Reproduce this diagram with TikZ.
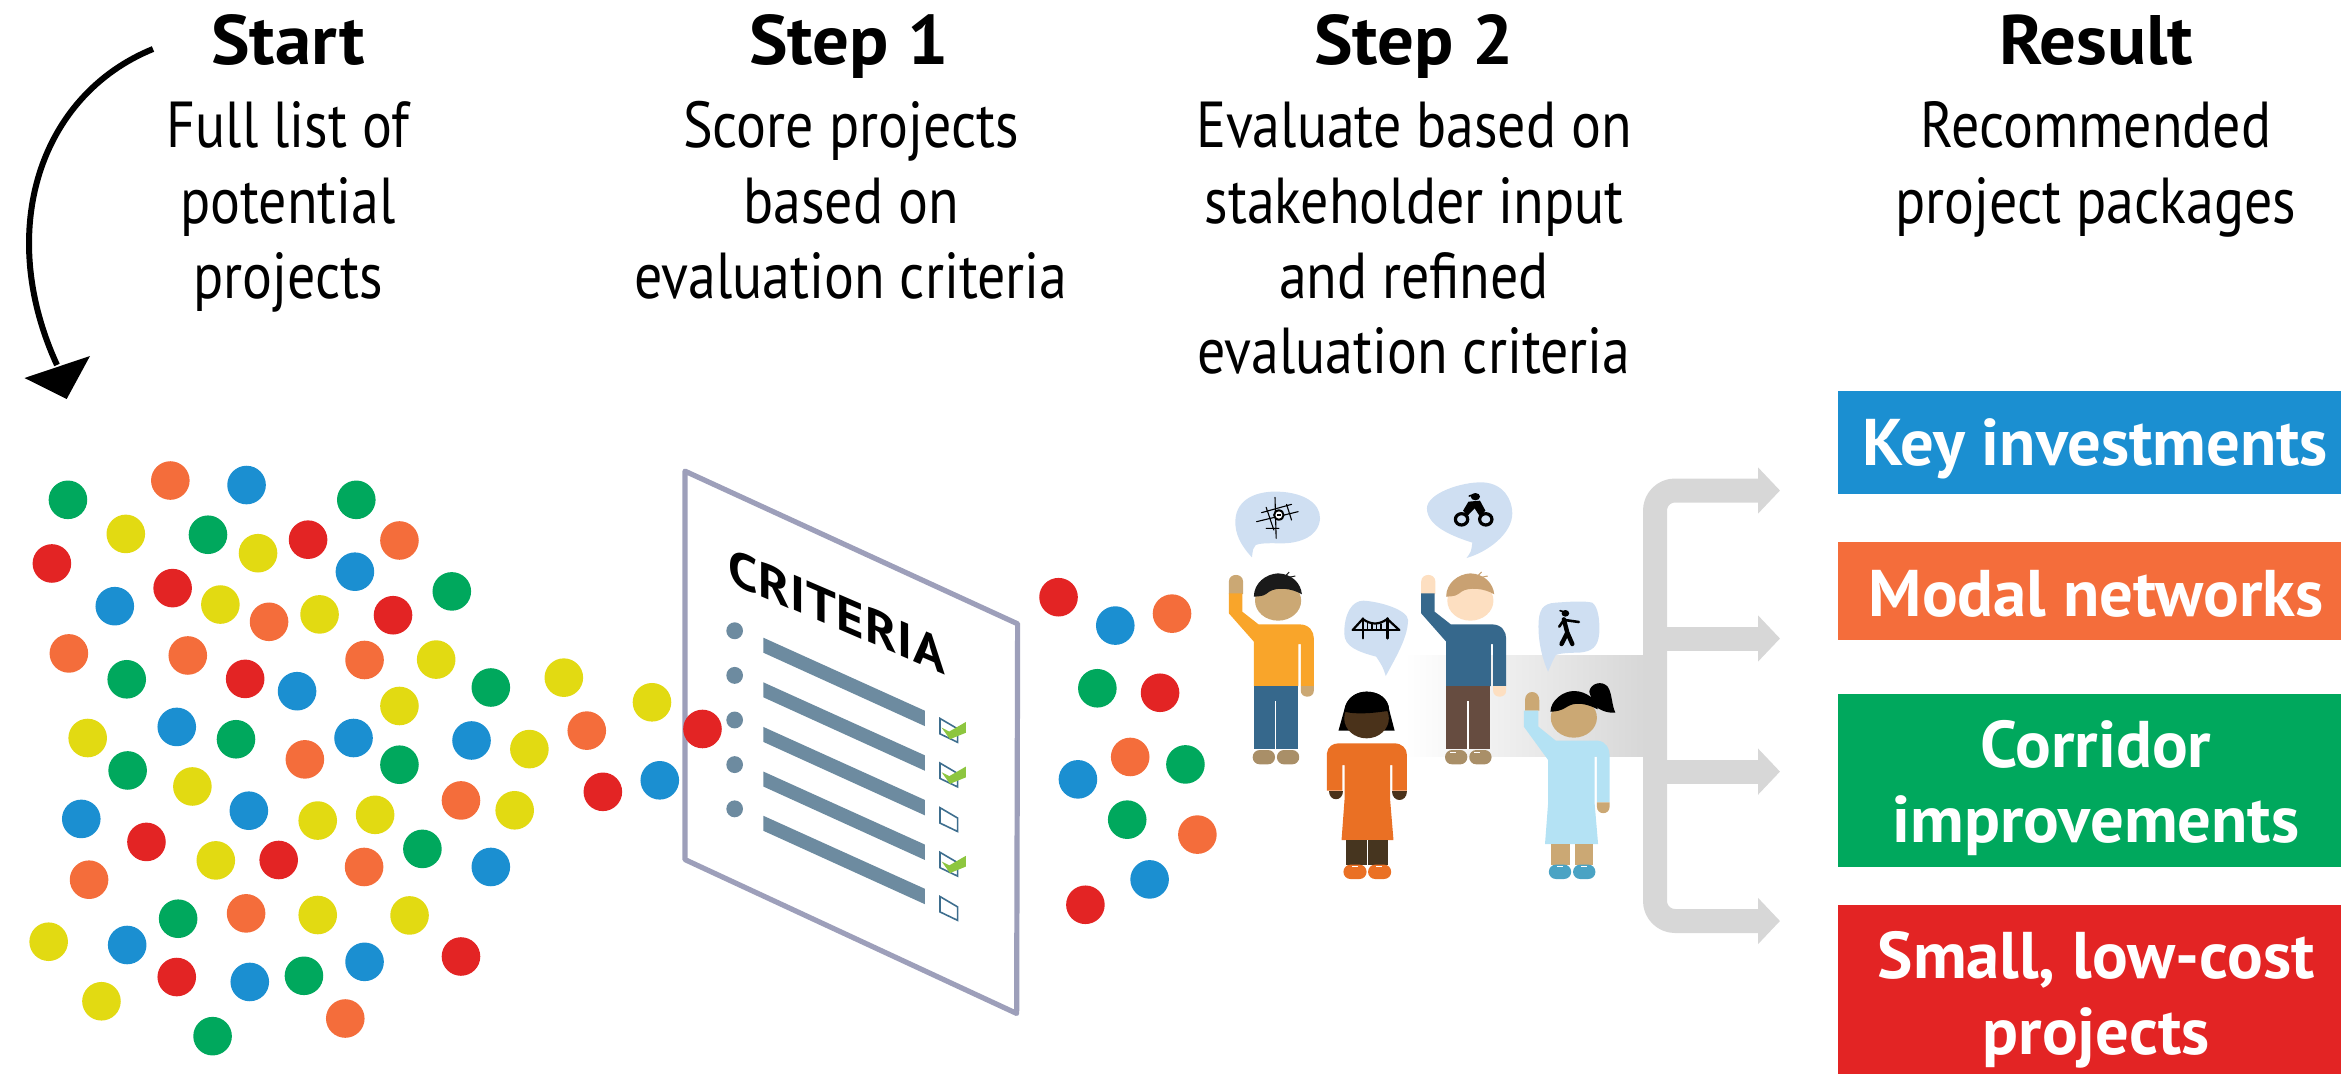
\documentclass[tikz,border=0pt]{standalone}
\usepackage{fontspec}
\usetikzlibrary{arrows.meta}
\newfontfamily\din[FakeStretch=0.86]{PT Sans}
\newfontfamily\dinh[FakeStretch=1.04]{PT Sans}
\newfontfamily\dinb[FakeStretch=1.01]{PT Sans}
\newfontfamily\dinc[FakeStretch=1.05,LetterSpace=1.5]{PT Sans}
\definecolor{dg}{HTML}{00A85D}
\definecolor{dy}{HTML}{E2DA12}
\definecolor{dr}{HTML}{E32424}
\definecolor{db}{HTML}{1B8FD1}
\definecolor{dn}{HTML}{F46D3B}
\definecolor{sheet}{HTML}{9D9FBA}
\definecolor{bar}{HTML}{6D8BA0}
\definecolor{tick}{HTML}{8DC63F}
\definecolor{boxline}{HTML}{3E6E8E}
\definecolor{grayarrow}{HTML}{D7D7D7}
\definecolor{bubble}{HTML}{CFDFF2}
\definecolor{tan}{HTML}{CBA874}
\definecolor{shoe}{HTML}{A98F68}
\definecolor{jean}{HTML}{36688C}
\definecolor{shirtor}{HTML}{F9A52A}
\definecolor{hairb}{HTML}{1A1A1A}
\definecolor{brownleg}{HTML}{664C40}
\definecolor{pale}{HTML}{FDDFC1}
\definecolor{sandy}{HTML}{C9A172}
\definecolor{darkskin}{HTML}{4A321A}
\definecolor{dress}{HTML}{EA7024}
\definecolor{darkleg}{HTML}{46351F}
\definecolor{sky}{HTML}{B4E2F4}
\definecolor{shoeblue}{HTML}{4AA3C4}
\tikzset{
  title/.style={anchor=base,inner sep=0pt,font=\dinh\bfseries\fontsize{70}{70}\selectfont},
  body/.style={anchor=base,inner sep=0pt,font=\din\fontsize{65}{65}\selectfont},
  boxlabel/.style={anchor=base,inner sep=0pt,text=white,font=\dinb\bfseries\fontsize{66}{66}\selectfont},
  grayline/.style={draw=grayarrow,line width=24pt,line join=round},
  graytip/.style={-{Triangle[length=22pt,width=45pt,color=grayarrow]}},
  icon/.style={draw=black,line cap=round,line join=round},
}
\newcommand{\manfig}[4]{%
  \fill[#3] (75,372) -- (75,335) .. controls (75,308) and (112,308) .. (112,335) -- (112,372) -- cycle;
  \fill[#1] (75,370) -- (110,370) -- (110,425) -- (152,463) -- (258,463) .. controls (285,463) and (296,485) .. (296,505) -- (296,648) -- (262,648) -- (262,522) -- (256,522) -- (256,648) -- (140,648) -- (140,515) -- (75,430) -- cycle;
  \fill[#3] (262,648) -- (296,648) -- (296,662) .. controls (296,686) and (262,686) .. (262,662) -- cycle;
  \fill[#2] (140,648) rectangle (255,838);
  \draw[white,line width=1.2pt] (197,693) -- (197,838);
  \fill[shoe,rounded corners=7pt] (137,840) rectangle (195,883);
  \fill[shoe,rounded corners=7pt] (200,840) rectangle (258,883);
  \fill[#3] (203,392) ellipse [x radius=60,y radius=60];
  \fill[#4] (140,380) .. controls (140,340) and (170,312) .. (203,310) .. controls (240,312) and (262,340) .. (265,373) .. controls (240,355) and (200,350) .. (180,365) .. controls (165,378) .. (140,380) -- cycle;
  \draw[#4,line width=1pt] (222,318) -- (232,306) (230,322) -- (248,318);
}
\begin{document}
\begin{tikzpicture}[x=1pt,y=-1pt]
\useasboundingbox (0,0) rectangle (2341,1074);

% headers
\node[title] (t0) at (288,64) {Start};
\node[body] (t0a) at (288,147) {Full list of};
\node[body] (t0b) at (288,223) {potential};
\node[body] (t0c) at (288,298) {projects};
\node[title] (t1) at (849,64) {Step 1};
\node[body] (t1a) at (851,147) {Score projects};
\node[body] (t1b) at (851,223) {based on};
\node[body] (t1c) at (851,298) {evaluation criteria};
\node[title] (t2) at (1414,64) {Step 2};
\node[body] (t2a) at (1414,147) {Evaluate based on};
\node[body] (t2b) at (1414,223) {stakeholder input};
\node[body] (t2c) at (1414,298) {and refined};
\node[body] (t2d) at (1414,373) {evaluation criteria};
\node[title] (t3) at (2096,64) {Result};
\node[body] (t3a) at (2096,147) {Recommended};
\node[body] (t3b) at (2096,223) {project packages};

% start arrow
\coordinate (sa) at (153,49);
\coordinate (sb) at (57,365);
\draw[black,line width=6pt] (sa) .. controls (40,95) and (-5,230) .. (sb);
\fill[black] (24.5,378) -- (90,356) -- (66.7,399) -- cycle;

% criteria sheet
\begin{scope}[shift={(660,450)},x=0.3333pt,y=-0.3846pt]
  \draw[sheet,fill=white,line width=5.2pt,line join=round] (75,55) -- (1073,452) -- (1070,1465) -- (75,1065) -- cycle;
  \foreach \d in {0,116,232,348,463} {
    \fill[bar] (224,470+\d) ellipse [x radius=25,y radius=22];
    \fill[bar] (310,488+\d) -- (795,678+\d) -- (795,718+\d) -- (310,527+\d) -- cycle;
    \draw[boxline,line width=1.6pt] (840,698+\d) -- (893,725+\d) -- (893,760+\d) -- (840,738+\d) -- cycle;
  }
  \foreach \d in {0,116,348} {
    \fill[tick] (845,722+\d) -- (868,732+\d) -- (918,707+\d) -- (918,735+\d) -- (870,752+\d) -- cycle;
  }
\end{scope}
\begin{scope}[shift={(728,582)},yslant=-0.43]
  \node[anchor=base west,inner sep=0pt,transform shape,font=\dinc\bfseries\fontsize{50}{50}\selectfont] (crit) at (0,0) {CRITERIA};
\end{scope}

% project dots
\begin{scope}[shift={(0,430)},x=0.45914pt,y=-0.41068pt]
\foreach \cc/\xx/\yy in {dg/148/170,dn/371/123,db/537/134,dg/776/170,dy/274/253,dg/453/255,dy/562/300,dr/671/267,dn/870/269,dr/113/325,db/773/345,dr/376/385,db/250/429,dy/480/425,dn/586/467,dy/696/449,dr/856/451,dg/984/393,dn/150/544,dn/409/549,dg/276/607,dr/534/606,db/647/636,dn/794/560,dy/950/559,dy/870/672,dg/1069/627,dy/1228/603,dy/1420/663,dn/1278/732,dr/1530/728,db/385/723,dg/514/753,dy/191/750,db/770/750,dn/664/802,dg/870/815,db/1027/756,dy/1153/777,dg/278/829,dy/419/868,db/177/947,dr/319/1003,db/542/927,dy/692/951,dy/817/937,dn/1004/902,dy/1121/926,dr/1313/881,db/1437/853,dg/920/1020,db/1069/1064,dn/793/1064,dr/607/1047,dy/470/1048,dn/194/1095,dg/388/1190,dn/536/1177,dy/692/1181,dy/892/1182,dy/106/1246,db/277/1254,dr/385/1332,db/544/1344,dg/662/1329,db/794/1295,dr/1004/1282,dy/221/1391,dg/463/1476,dn/752/1433}
  \fill[\cc] (\xx,\yy) circle [radius=19.3pt];
\end{scope}
\begin{scope}[x=1.493pt,y=-1.493pt]
\foreach \cc/\xx/\yy in {dr/709/400,db/747/419,dn/785/411,dg/735/461,dr/777/464,dn/757/507,dg/794/512,db/722/522,dg/755/549,dn/802/559,db/770/589,dr/727/606}
  \fill[\cc] (\xx,\yy) circle [radius=19.3pt];
\end{scope}

% band and gray arrows
\fill[left color=white,right color=grayarrow] (1404,655) rectangle (1646,756);
\coordinate (h1) at (1780,490.5);
\coordinate (h2) at (1780,638.5);
\coordinate (h3) at (1780,771.6);
\coordinate (h4) at (1780,921);
\coordinate (v2) at (1655,638.5);
\coordinate (v3) at (1655,771.6);
\draw[grayline,rounded corners=20pt,{Triangle[length=22pt,width=45pt,color=grayarrow]}-{Triangle[length=22pt,width=45pt,color=grayarrow]}] (h1) -- (1655,490.5) -- (1655,921) -- (h4);
\draw[grayline,graytip] (v2) -- (h2);
\draw[grayline,graytip] (v3) -- (h3);

% result boxes
\fill[db] (1838,391) rectangle (2341,494);
\fill[dn] (1838,542) rectangle (2341,640);
\fill[dg] (1838,693.5) rectangle (2341,866.5);
\fill[dr] (1838,905) rectangle (2341,1074);
\node[boxlabel] (k) at (2095,465) {Key investments};
\node[boxlabel] (m) at (2096,616) {Modal networks};
\node[boxlabel] (c1) at (2096,767.5) {Corridor};
\node[boxlabel] (c2) at (2096,842) {improvements};
\node[boxlabel] (s1) at (2096,978) {Small, low-cost};
\node[boxlabel] (s2) at (2096,1054) {projects};

% people
\begin{scope}[shift={(1200,470)},x=0.38462pt,y=-0.33333pt]
  \fill[bubble] (135,262) .. controls (105,225) and (90,190) .. (92,150) .. controls (95,85) and (150,62) .. (205,65) .. controls (270,68) and (313,100) .. (312,145) .. controls (310,195) and (265,222) .. (205,220) .. controls (175,219) and (155,220) .. (145,225) .. controls (138,235) .. (135,262) -- cycle;
  \fill[bubble] (693,264) .. controls (705,245) .. (708,218) .. controls (660,200) and (590,170) .. (590,115) .. controls (590,70) and (680,35) .. (735,37) .. controls (790,40) and (812,90) .. (812,130) .. controls (812,190) and (750,245) .. (693,264) -- cycle;
  \fill[bubble] (483,618) .. controls (475,590) .. (458,560) .. controls (410,545) and (375,530) .. (375,490) .. controls (375,430) and (395,392) .. (425,392) .. controls (470,395) and (540,420) .. (541,450) .. controls (540,500) and (515,550) .. (483,618) -- cycle;
  \fill[bubble] (905,605) .. controls (895,580) and (880,530) .. (880,470) .. controls (880,420) and (890,400) .. (925,398) .. controls (960,395) and (1000,392) .. (1020,398) .. controls (1035,410) and (1040,450) .. (1038,490) .. controls (1035,530) and (1020,545) .. (985,548) .. controls (960,548) and (935,550) .. (925,555) .. controls (918,570) .. (905,605) -- cycle;

  % network icon
  \draw[icon,line width=1.1pt] (195,82) -- (198,205) (172,112) -- (192,180) (147,155) -- (255,125) (160,128) -- (238,103) (172,175) -- (205,175) (225,103) -- (238,150);
  \fill[black] (205,135) ellipse [x radius=15,y radius=17];
  \fill[white] (205,135) ellipse [x radius=9,y radius=11];
  \fill[black] (199,132) rectangle (211,138);
  % bike icon
  \foreach \wx in {680,743} \draw[black,line width=3.2pt] (\wx,148) ellipse [x radius=16,y radius=17];
  \fill[black] (716,80) ellipse [x radius=12,y radius=11];
  \draw[black,line width=1.6pt,line cap=round] (700,78) -- (712,74);
  \fill[black] (698,95) -- (728,92) -- (742,122) -- (728,140) -- (714,115) -- (695,138) -- (684,122) -- cycle;
  % bridge icon
  \draw[icon,line width=2.4pt] (397,480) -- (518,480) (423,445) -- (423,505) (487,445) -- (487,505);
  \draw[icon,line width=2.2pt] (397,480) -- (423,447) .. controls (445,465) and (465,465) .. (487,447) -- (518,480);
  \draw[icon,line width=1.4pt] (435,460) -- (435,480) (447,463) -- (447,480) (459,464) -- (459,480) (471,462) -- (471,480);
  % pedestrian icon
  \fill[black] (950,430) ellipse [x radius=10,y radius=10];
  \draw[icon,line width=1.6pt] (936,422) -- (948,426);
  \draw[icon,line width=4.4pt] (946,448) -- (955,488) -- (940,522) (955,488) -- (968,522);
  \draw[icon,line width=2.6pt] (948,450) -- (985,456) (946,450) -- (934,470);

  % man with orange shirt
  \manfig{shirtor}{jean}{tan}{hairb}
  % man with blue shirt
  \begin{scope}[shift={(500,0)}]
    \manfig{jean}{brownleg}{pale}{sandy}
    \draw[white,line width=1.2pt] (150,848) -- (165,848) (212,848) -- (227,848);
  \end{scope}

  % woman with orange dress
  \fill[black] (360,782) -- (375,720) .. controls (380,685) and (405,665) .. (433,665) .. controls (465,665) and (490,685) .. (492,720) -- (506,782) -- cycle;
  \fill[darkskin] (433,745) ellipse [x radius=58,y radius=60];
  \fill[black] (375,725) .. controls (378,685) and (405,665) .. (433,665) .. controls (465,665) and (490,685) .. (492,722) .. controls (460,728) and (410,735) .. (375,725) -- cycle;
  \fill[dress] (330,850) .. controls (332,830) and (345,820) .. (360,820) -- (505,820) .. controls (525,820) and (538,835) .. (538,855) -- (538,962) -- (500,962) -- (500,885) -- (494,885) -- (494,985) -- (503,1110) -- (368,1110) -- (376,985) -- (376,885) -- (370,885) -- (370,962) -- (330,962) -- cycle;
  \fill[darkskin] (335,962) -- (372,962) .. controls (372,996) and (335,996) .. (335,962) -- cycle;
  \fill[darkskin] (500,962) -- (537,962) .. controls (537,998) and (500,998) .. (500,962) -- cycle;
  \fill[darkleg] (380,1110) rectangle (490,1186);
  \draw[white,line width=1.2pt] (436,1110) -- (436,1186);
  \fill[dress,rounded corners=7pt] (373,1184) rectangle (433,1227);
  \fill[dress,rounded corners=7pt] (437,1184) rectangle (497,1227);
  \draw[white,line width=1.2pt] (396,1190) -- (412,1190) (458,1190) -- (474,1190);

  % girl with light blue dress
  \fill[tan] (845,722) -- (845,690) .. controls (845,658) and (882,658) .. (882,690) -- (882,722) -- cycle;
  \fill[black] (1012,665) .. controls (1015,640) and (1045,630) .. (1060,650) .. controls (1072,670) and (1070,705) .. (1080,728) .. controls (1060,730) and (1030,720) .. (1020,695) -- cycle;
  \fill[sky] (842,722) -- (880,722) -- (880,770) -- (925,812) -- (1035,812) .. controls (1055,815) and (1065,835) .. (1065,855) -- (1065,997) -- (1032,997) -- (1032,860) -- (1026,860) -- (1026,1000) -- (1035,1122) -- (897,1122) -- (905,1000) -- (905,870) -- (842,770) -- cycle;
  \fill[tan] (1032,997) -- (1065,997) -- (1065,1010) .. controls (1065,1036) and (1032,1036) .. (1032,1010) -- cycle;
  \fill[tan] (913,1122) rectangle (962,1186);
  \fill[tan] (975,1122) rectangle (1023,1186);
  \fill[shoeblue,rounded corners=7pt] (907,1184) rectangle (965,1227);
  \fill[shoeblue,rounded corners=7pt] (970,1184) rectangle (1028,1227);
  \draw[white,line width=1.2pt] (928,1190) -- (944,1190) (990,1190) -- (1006,1190);
  \fill[tan] (972,743) ellipse [x radius=60,y radius=60];
  \fill[black] (911,725) .. controls (912,690) and (945,663) .. (972,663) .. controls (1005,663) and (1033,690) .. (1034,718) .. controls (1005,700) and (975,695) .. (955,710) .. controls (940,722) and (925,725) .. (911,725) -- cycle;
\end{scope}
\end{tikzpicture}
\end{document}
